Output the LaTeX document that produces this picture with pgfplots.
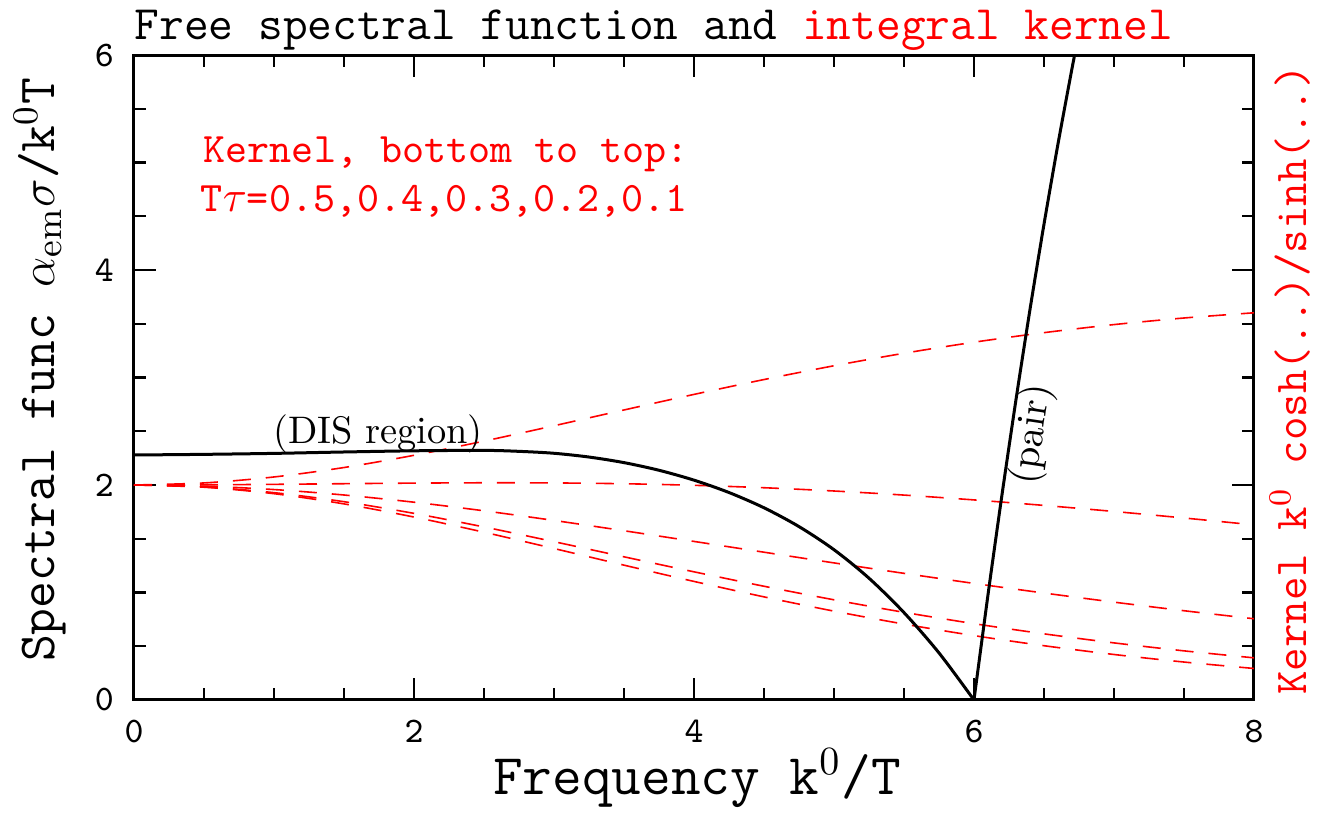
\documentclass[border=0pt]{standalone}
\usepackage{pgfplots}
\pgfplotsset{compat=1.18}
\usepackage{fontspec}
\begin{document}
\begin{tikzpicture}
\begin{axis}[
  scale only axis, width=280pt, height=161.25pt,
  xmin=0, xmax=8, ymin=0, ymax=6,
  xtick={0,2,4,6,8}, ytick={0,2,4,6},
  minor x tick num=3, minor y tick num=3,
  major tick length=5.5pt, minor tick length=3pt,
  tick align=inside,
  every tick/.style={black, line width=0.6pt},
  axis line style={line width=0.75pt},
  tick label style={font=\fontsize{9}{10}\ttfamily},
  /pgf/number format/assume math mode=true,
  xticklabel style={yshift=-1.5pt},
  yticklabel style={xshift=-1.5pt},
  clip=true,
]
% kernels, T tau = 0.5, 0.4, 0.3, 0.2, 0.1
\addplot[red, line width=0.4pt, dash pattern=on 4.5pt off 3.75pt, smooth] coordinates {
 (0,2) (0.5,1.97932) (1,1.91903) (1.5,1.82412) (2,1.70184) (2.5,1.56063) (3,1.40893) (3.5,1.25429)
 (4,1.10288) (4.5,0.95925) (5,0.82642) (5.5,0.70609) (6,0.59893) (6.5,0.50482) (7,0.42315) (7.5,0.35296) (8,0.29315)};
\addplot[red, line width=0.4pt, dash pattern=on 4.5pt off 3.75pt, smooth] coordinates {
 (0,2) (0.5,1.98179) (1,1.92863) (1.5,1.84468) (2,1.73599) (2.5,1.60965) (3,1.47281) (3.5,1.33190)
 (4,1.19229) (4.5,1.05802) (5,0.93189) (5.5,0.81560) (6,0.71001) (6.5,0.61527) (7,0.53113) (7.5,0.45697) (8,0.39207)};
\addplot[red, line width=0.4pt, dash pattern=on 4.5pt off 3.75pt, smooth] coordinates {
 (0,2) (0.5,1.98922) (1,1.95754) (1.5,1.90682) (2,1.83981) (2.5,1.75981) (3,1.67024) (3.5,1.57435)
 (4,1.47503) (4.5,1.37469) (5,1.27523) (5.5,1.17813) (6,1.08446) (6.5,0.99496) (7,0.91015) (7.5,0.83031) (8,0.75567)};
\addplot[red, line width=0.4pt, dash pattern=on 4.5pt off 3.75pt, smooth] coordinates {
 (0,2) (0.5,2.00163) (1,2.00604) (1.5,2.01195) (2,2.01747) (2.5,2.02052) (3,2.01912) (3.5,2.01162)
 (4,1.99694) (4.5,1.97445) (5,1.94408) (5.5,1.90610) (6,1.86116) (6.5,1.81002) (7,1.75367) (7.5,1.69300) (8,1.62902)};
\addplot[red, line width=0.4pt, dash pattern=on 4.5pt off 3.75pt, smooth] coordinates {
 (0,2) (0.5,2.01904) (1,2.07461) (1.5,2.16243) (2,2.27610) (2.5,2.40818) (3,2.55109) (3.5,2.69785)
 (4,2.84263) (4.5,2.98084) (5,3.10915) (5.5,3.22536) (6,3.32822) (6.5,3.41713) (7,3.49214) (7.5,3.55348) (8,3.60183)};
% spectral function, DIS region
\addplot[black, line width=0.75pt, smooth, tension=0.5] coordinates {
 (0,2.279) (0.5,2.285) (1,2.294) (1.5,2.307) (2,2.318) (2.5,2.322) (2.75,2.313) (3,2.295)
 (3.25,2.260) (3.5,2.208) (3.75,2.137) (4,2.045) (4.25,1.930) (4.5,1.788) (4.75,1.613)
 (5,1.398) (5.25,1.133) (5.5,0.813) (5.75,0.438) (6,0)};
% pair region
\addplot[black, line width=0.75pt, smooth, tension=0.4] coordinates {
 (6,0) (6.1,0.977) (6.2,1.908) (6.3,2.793) (6.4,3.632) (6.5,4.425) (6.6,5.172) (6.7,5.873) (6.75,6.206)};
\node[anchor=base, font=\fontsize{9.6}{11}\rmfamily, inner sep=0pt] at (axis cs:1.743,2.39) {(DIS region)};
\node[anchor=north, rotate=81.5, font=\fontsize{10}{11}\rmfamily, inner sep=0.5pt] at (axis cs:6.26,2.5) {(pair)};
\end{axis}
\node[anchor=base west, font=\fontsize{12}{14}\ttfamily, inner sep=0pt] at (0pt,165pt)
  {Free spectral function and \textcolor{red}{integral kernel}};
\node[anchor=base west, font=\fontsize{10.5}{12}\ttfamily, text=red, inner sep=0pt] at (17.25pt,134.25pt)
  {Kernel, bottom to top:};
\node[anchor=base west, font=\fontsize{10.5}{12}\ttfamily, text=red, inner sep=0pt] at (16.5pt,122pt)
  {T$\tau$=0.5,0.4,0.3,0.2,0.1};
\node[anchor=base, font=\fontsize{14.4}{16}\ttfamily, inner sep=0pt] at (140.75pt,-23.75pt)
  {Frequency k$^0$/T};
\node[rotate=90, font=\fontsize{13}{15}\ttfamily, inner sep=0pt] at (-23.5pt,82.5pt)
  {Spectral func $\alpha_{\mathrm{em}}\sigma$/k$^0$T};
\node[rotate=90, font=\fontsize{11.4}{13}\ttfamily, text=red, inner sep=0pt] at (289pt,80pt)
  {Kernel k$^0$ cosh(..)/sinh(..)};
\pgfresetboundingbox
\path (-33.5pt,-30pt) rectangle (296.75pt,175pt);
\end{tikzpicture}
\end{document}
